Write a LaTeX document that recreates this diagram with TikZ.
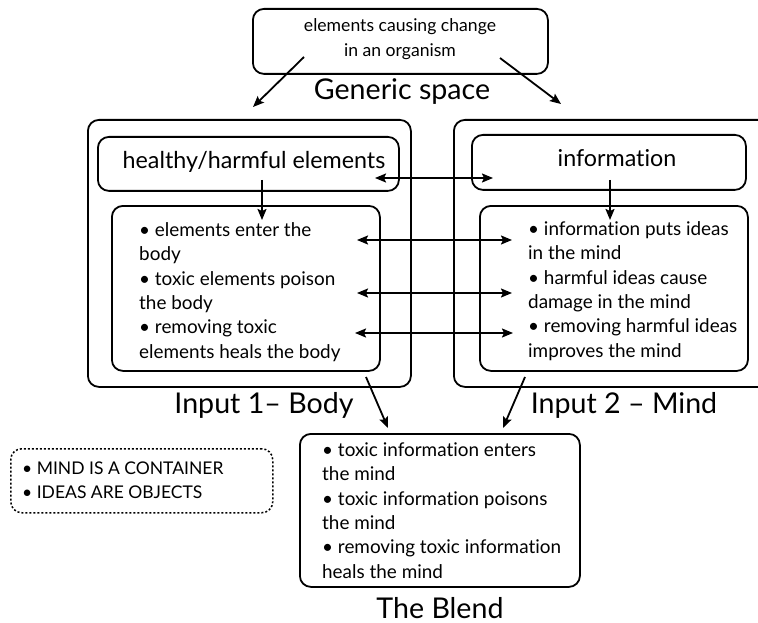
\documentclass[tikz,border=0pt]{standalone}
\usepackage{fontspec}
\setmainfont{Lato}[Ligatures={NoCommon,NoRequired,NoContextual}]
\usetikzlibrary{arrows.meta}
\begin{document}
\begin{tikzpicture}[x=1pt,y=-1pt,
  box/.style={draw, line width=1.8pt, rounded corners=11pt, anchor=north west, inner sep=0pt},
  dotbox/.style={box, line width=1.5pt, dash pattern=on 2pt off 2pt},
  tip/.tip={Stealth[length=11pt,width=9pt,inset=2pt]},
  arr/.style={-tip, line width=1.8pt},
  darr/.style={tip-tip, line width=1.8pt},
  txt/.style={font=\fontsize{18.9}{24.3}\selectfont, align=left, anchor=base west, inner sep=0pt},
  head/.style={font=\fontsize{23.3}{26}\selectfont, anchor=base, inner sep=0pt},
  title/.style={font=\fontsize{28.6}{30}\selectfont, anchor=base, inner sep=0pt}]
\useasboundingbox (0,0) rectangle (758,623);
\clip (0,0) rectangle (758,623);

% boxes
\node[box, minimum width=295pt, minimum height=65pt] (gen) at (252,8) {};
\node[box, minimum width=323pt, minimum height=267pt] (in1) at (87,119) {};
\node[box, minimum width=330pt, minimum height=267pt] (in2) at (453,119) {};
\node[box, minimum width=301pt, minimum height=54pt] (hh) at (97,136) {};
\node[box, minimum width=268pt, minimum height=165pt] (body) at (111,205) {};
\node[box, minimum width=274pt, minimum height=55pt] (info) at (471,134) {};
\node[box, minimum width=268pt, minimum height=165pt] (mind) at (479,205) {};
\node[box, minimum width=280pt, minimum height=153pt] (blend) at (299,433) {};
\node[dotbox, minimum width=262pt, minimum height=64pt] (meta) at (10,448) {};

% texts (multi-line nodes are placed by the baseline of their last line)
\node[font=\fontsize{17.6}{25}\selectfont, align=center, anchor=base, inner sep=0pt] (gentxt) at (400,57)
  {elements causing change\\in an organism};
\node[title] (gentitle) at (402,100) {Generic space};
\node[head] (hhtxt) at (254,168) {healthy/harmful elements};
\node[head] (infotxt) at (617,167) {information};
\node[txt] (bodytxt) at (139,358)
  {• elements enter the\\body\\• toxic elements poison\\the body\\• removing toxic\\elements heals the body};
\node[txt] (mindtxt) at (528,357)
  {• information puts ideas\\in the mind\\• harmful ideas cause\\damage in the mind\\• removing harmful ideas\\improves the mind};
\node[title] (in1title) at (264,413) {Input 1– Body};
\node[title] (in2title) at (624,413) {Input 2 – Mind};
\node[txt] (blendtxt) at (322,578)
  {• toxic information enters\\the mind\\• toxic information poisons\\the mind\\• removing toxic information\\heals the mind};
\node[title] (blendtitle) at (440,618) {The Blend};
\node[txt, font=\fontsize{17.5}{24}\selectfont] (metatxt) at (22,498)
  {• MIND IS A CONTAINER\\• IDEAS ARE OBJECTS};

% connector ends
\coordinate (g1) at (304,57);  \coordinate (g1e) at (253,107);
\coordinate (g2) at (500,58);  \coordinate (g2e) at (561,104);
\coordinate (h1) at (262,180); \coordinate (h1e) at (262,220);
\coordinate (h2) at (610,180); \coordinate (h2e) at (610,220);
\coordinate (a0) at (375,178); \coordinate (b0) at (493,178);
\coordinate (a1) at (357,240); \coordinate (b1) at (512,240);
\coordinate (a2) at (357,293); \coordinate (b2) at (512,293);
\coordinate (a3) at (355,333); \coordinate (b3) at (513,333);
\coordinate (bl1) at (366,377); \coordinate (bl1e) at (388,428);
\coordinate (bl2) at (525,377); \coordinate (bl2e) at (503,428);

% connectors
\draw[arr] (g1) -- (g1e);
\draw[arr] (g2) -- (g2e);
\draw[arr] (h1) -- (h1e);
\draw[arr] (h2) -- (h2e);
\draw[darr] (a0) -- (b0);
\draw[darr] (a1) -- (b1);
\draw[darr] (a2) -- (b2);
\draw[darr] (a3) -- (b3);
\draw[arr] (bl1) -- (bl1e);
\draw[arr] (bl2) -- (bl2e);
\end{tikzpicture}
\end{document}
